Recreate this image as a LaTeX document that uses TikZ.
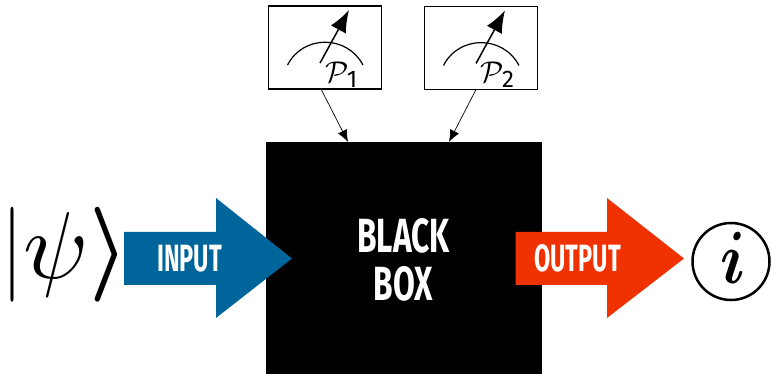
\documentclass[tikz,border=0pt]{standalone}
\usepackage{fontspec}
\setsansfont{Fira Sans}
\definecolor{inblue}{HTML}{00659B}
\definecolor{outred}{HTML}{F03200}
\usetikzlibrary{arrows.meta,calc}
\tikzset{
  meter/.style={draw=black,line width=1.2pt,fill=white,minimum width=113pt,minimum height=83pt,inner sep=0pt,outer sep=0pt},
  flowlabel/.style={text=white,inner sep=0pt,font=\sffamily\bfseries\fontsize{38}{40}\selectfont},
  link/.style={draw=black,line width=0.7pt,-{Latex[length=12pt,width=10pt]}},
  ketpart/.style={inner sep=0pt},
}
\begin{document}
\begin{tikzpicture}[x=1pt,y=-1pt]
\useasboundingbox (0,0) rectangle (772,374);
\node[fill=black,minimum width=276pt,minimum height=232pt,inner sep=0pt,outer sep=0pt] (box) at (404,258) {};
\node[text=white,align=center,inner sep=0pt,font=\sffamily\bfseries\fontsize{48}{48}\selectfont] (boxlabel) at (403.5,260) {\scalebox{0.66}[1]{BLACK}\\[0pt]\scalebox{0.66}[1]{BOX}};
% input arrow
\fill[inblue] (124,232) -- (216,232) -- (216,198) -- (292,258.5) -- (216,318) -- (216,285) -- (124,285) -- cycle;
\node[flowlabel] (inlabel) at (189.5,258.5) {\scalebox{0.62}[1]{INPUT}};
% output arrow
\fill[outred] (515.5,232) -- (607,232) -- (607,198) -- (684,258.5) -- (607,318) -- (607,285) -- (515.5,285) -- cycle;
\node[flowlabel] (outlabel) at (577.5,258.5) {\scalebox{0.62}[1]{OUTPUT}};
% ket
\node[ketpart] (ketbar) at (12,254.5) {\scalebox{5}[9.5]{\boldmath$|$}};
\node[ketpart] (ketpsi) at (56.5,254.5) {\scalebox{9.5}{$\psi$}};
\node[ketpart] (ketangle) at (109,254.5) {\scalebox{8.8}[9.5]{\boldmath$\rangle$}};
% outcome
\node[draw=black,line width=2.5pt,circle,minimum size=77pt,inner sep=0pt,outer sep=0pt] (out) at (731,261.5) {};
\node[inner sep=0pt] (outi) at (733,258) {\scalebox{6.2}[7.4]{\boldmath$i$}};
% meters
\node[meter] (m1) at (325,47.6) {};
\node[meter] (m2) at (481,48) {};
\foreach \m/\n in {m1/1,m2/2}{
  \draw[line width=1.2pt] ($(\m.center)+(-37.5,17.5)$) .. controls ($(\m.center)+(-22,-13)$) and ($(\m.center)+(22,-13)$) .. ($(\m.center)+(38,17.5)$);
  \draw[line width=1.5pt,-{Latex[length=22pt,width=17pt]}] ($(\m.center)+(-5,15.5)$) -- ($(\m.center)+(24,-37.5)$);
  \node[inner sep=0pt] (p\n) at ($(\m.center)+(16.5,27)$) {\scalebox{3}{$\mathcal{P}$}\kern-2pt\raisebox{-5pt}{\sffamily\fontsize{24}{24}\fontseries{m}\selectfont\n}};
}
\coordinate (t1) at (348,142);
\coordinate (t2) at (449,142);
\coordinate (s1) at (321,89);
\coordinate (s2) at (476,89.5);
\draw[link] (s1) -- (t1);
\draw[link] (s2) -- (t2);
\end{tikzpicture}
\end{document}
